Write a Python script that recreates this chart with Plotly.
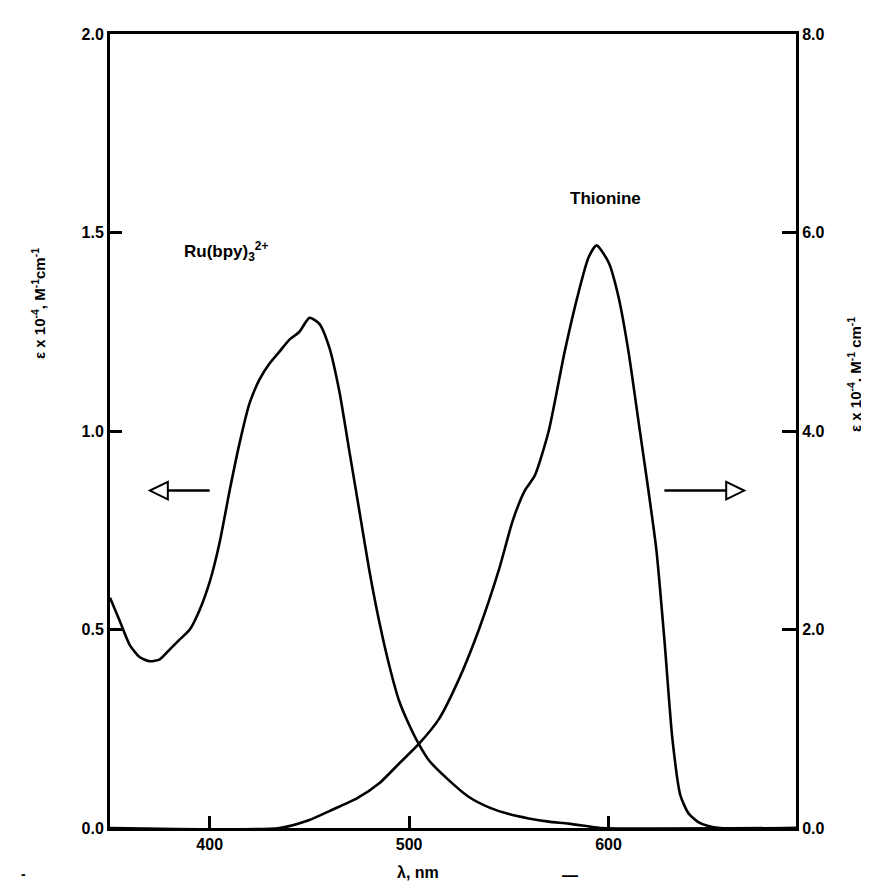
import plotly.graph_objects as go

# ---------------- data ----------------
ru_wl = [350, 355, 360, 365, 370, 375, 380, 385, 390, 395, 400, 405, 410, 415, 420,
         425, 430, 435, 440, 445, 450, 455, 460, 465, 470, 475, 480, 485, 490, 495,
         500, 505, 510, 520, 530, 540, 550, 560, 570, 580, 590, 596, 694]
ru_eps = [0.58, 0.52, 0.46, 0.43, 0.42, 0.425, 0.45, 0.475, 0.50, 0.55, 0.62, 0.72, 0.85, 0.97, 1.07,
          1.13, 1.17, 1.20, 1.23, 1.25, 1.285, 1.27, 1.21, 1.10, 0.95, 0.80, 0.65, 0.52, 0.41, 0.32,
          0.26, 0.21, 0.17, 0.12, 0.078, 0.052, 0.035, 0.024, 0.016, 0.011, 0.004, 0.0, 0.0]

th_wl = [350, 435, 450, 460, 474, 485, 495, 505, 515, 525, 535, 545, 552, 558, 563,
         570, 578, 585, 590, 594, 600, 605, 610, 615, 620, 624, 628, 632, 636, 640,
         645, 650, 656, 694]
th_eps = [0.0, 0.0, 0.08, 0.17, 0.30, 0.45, 0.65, 0.85, 1.10, 1.50, 2.00, 2.60, 3.10, 3.40, 3.55,
          4.00, 4.80, 5.40, 5.75, 5.87, 5.70, 5.35, 4.80, 4.10, 3.40, 2.80, 1.90, 0.90, 0.33, 0.15,
          0.06, 0.02, 0.0, 0.0]

x_ticks = [400, 500, 600]
y1_ticks = [0.0, 0.5, 1.0, 1.5, 2.0]
y2_ticks = [0.0, 2.0, 4.0, 6.0, 8.0]

x_range = [350, 694]
y1_range = [0, 2.0]
y2_range = [0, 8.0]

# arrow positions (data coordinates on left axis scale)
left_arrow = dict(tail=(400, 0.85), head=(370, 0.85))
right_arrow = dict(tail=(628, 0.85), head=(668, 0.85))

FONT = "Liberation Sans"
BLACK = "#000000"

fig = go.Figure()
fig.add_trace(go.Scatter(x=ru_wl, y=ru_eps, mode="lines",
                         line=dict(color=BLACK, width=2.6, shape="spline", smoothing=0.6),
                         showlegend=False, yaxis="y"))
fig.add_trace(go.Scatter(x=th_wl, y=th_eps, mode="lines",
                         line=dict(color=BLACK, width=2.6, shape="spline", smoothing=0.6),
                         showlegend=False, yaxis="y2"))

def arrow_shapes(a):
    (tx, ty), (hx, hy) = a["tail"], a["head"]
    direction = 1 if hx > tx else -1
    hl = 9  # head length in nm
    hh = 0.022  # half height in value units
    base_x = hx - direction * hl
    return [
        dict(type="line", xref="x", yref="y", x0=tx, y0=ty, x1=base_x, y1=hy,
             line=dict(color=BLACK, width=2.6)),
        dict(type="path", xref="x", yref="y",
             path=f"M {base_x},{hy - hh} L {hx},{hy} L {base_x},{hy + hh} Z",
             line=dict(color=BLACK, width=2), fillcolor="white"),
    ]

shapes = arrow_shapes(left_arrow) + arrow_shapes(right_arrow)

tickfont = dict(family=FONT, size=16, color=BLACK, weight="bold")

fig.update_layout(
    width=869, height=884,
    margin=dict(l=102, r=81, t=26, b=64),
    paper_bgcolor="white", plot_bgcolor="white",
    font=dict(family=FONT, size=15, color=BLACK),
    shapes=shapes,
    xaxis=dict(range=x_range, tickvals=x_ticks, ticktext=[str(v) for v in x_ticks],
               ticks="inside", ticklen=12, tickwidth=2.5, tickcolor=BLACK,
               showline=True, linewidth=3, linecolor=BLACK, mirror=True,
               showgrid=False, zeroline=False, tickfont=tickfont),
    yaxis=dict(range=y1_range, tickvals=y1_ticks, ticktext=[f"{v:.1f}" for v in y1_ticks],
               ticks="inside", ticklen=12, tickwidth=2.5, tickcolor=BLACK,
               showline=True, linewidth=3, linecolor=BLACK,
               showgrid=False, zeroline=False, tickfont=tickfont),
    yaxis2=dict(range=y2_range, tickvals=y2_ticks, ticktext=[f"{v:.1f}" for v in y2_ticks],
                overlaying="y", side="right",
                ticks="inside", ticklen=14, tickwidth=2.5, tickcolor=BLACK,
                showline=True, linewidth=3, linecolor=BLACK,
                showgrid=False, zeroline=False, tickfont=tickfont),
)

def px(xp, yp):
    return (xp - 102) / 686, (820 - yp) / 794

annotations = []
def add_text(text, xp, yp, size, angle=0):
    x, y = px(xp, yp)
    annotations.append(dict(text=text, xref="paper", yref="paper", x=x, y=y,
                            textangle=angle, showarrow=False,
                            font=dict(family=FONT, size=size, color=BLACK, weight="bold"),
                            xanchor="center", yanchor="middle"))

add_text("Ru(bpy)<sub>3</sub><sup>2+</sup>", 218, 243, 17)
add_text("Thionine", 597, 190, 17)
add_text("ε x 10<sup>-4</sup>, M<sup>-1</sup>cm<sup>-1</sup>", 30, 296, 15, -90)
add_text("ε x 10<sup>-4</sup>, M<sup>-1</sup> cm<sup>-1</sup>", 846, 367, 15, -90)
add_text("λ, nm", 410, 864, 16)
add_text("—", 562, 868, 16)
add_text("-", 16, 866, 14)

fig.update_layout(annotations=annotations)

fig.write_html("out.html")
